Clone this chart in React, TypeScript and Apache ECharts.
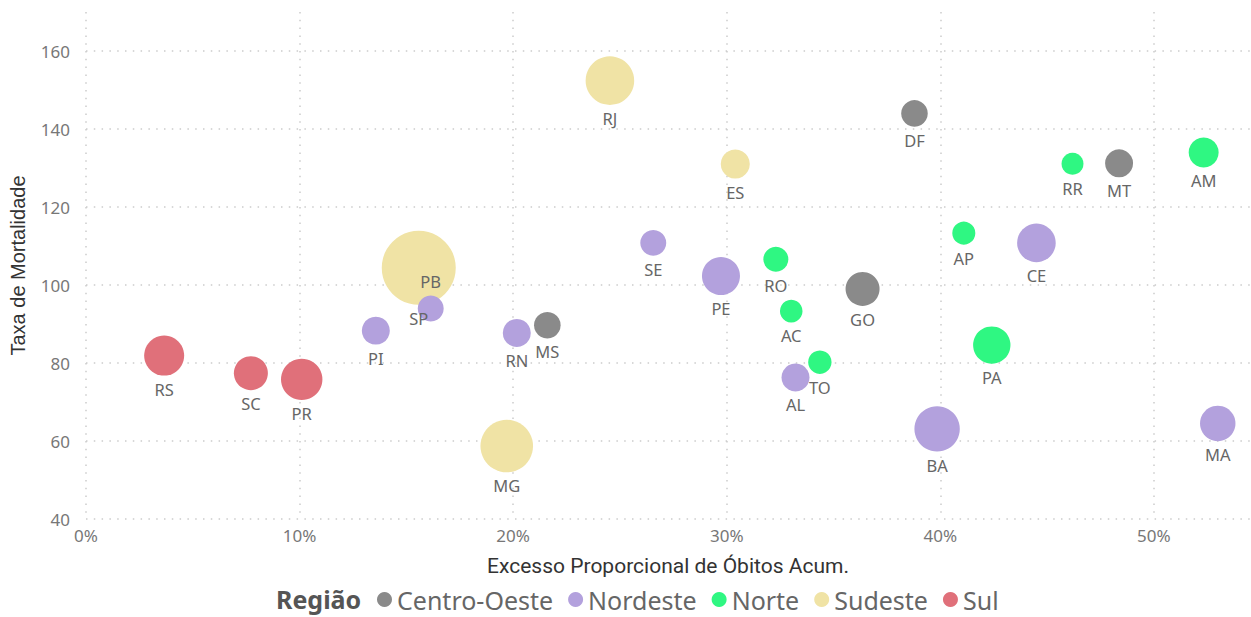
import React, { useEffect, useRef } from "react";
import * as echarts from "echarts";

const estados = ["RS","SC","PR","PI","RJ","ES","SE","PE","RO","SP","PB","RN","MS","MG","AC","TO","AL","DF","RR","MT","AM","AP","CE","GO","PA","BA","MA"];
const regiaoDoEstado = ["Sul","Sul","Sul","Nordeste","Sudeste","Sudeste","Nordeste","Nordeste","Norte","Sudeste","Nordeste","Nordeste","Centro-Oeste","Sudeste","Norte","Norte","Nordeste","Centro-Oeste","Norte","Centro-Oeste","Norte","Norte","Nordeste","Centro-Oeste","Norte","Nordeste","Nordeste"];
const excesso = [0.0366,0.0772,0.101,0.1357,0.2453,0.304,0.2656,0.2973,0.323,0.1558,0.1614,0.2017,0.216,0.197,0.3302,0.3436,0.3322,0.3879,0.4619,0.4837,0.5233,0.411,0.445,0.3636,0.4241,0.3985,0.5299];
const taxa = [81.9,77.4,75.8,88.3,152.4,131.0,110.8,102.3,106.6,104.4,94.0,87.7,89.7,58.7,93.3,80.2,76.3,144.0,131.1,131.2,134.0,113.3,110.8,99.0,84.6,63.1,64.5];
const tamanho = [29.2,21.1,31.3,14.3,43.1,15.4,12.3,26.4,11.4,100,12.3,14.3,12.9,50.5,9.3,10,14.3,12.9,8.8,14.3,16.4,9.7,27.2,21.1,25.5,37.6,22.9];
const labelAcima = ["PB"];

const regioes = ["Centro-Oeste","Nordeste","Norte","Sudeste","Sul"];
const cores: Record<string,string> = {
  "Centro-Oeste": "#8a8a8a",
  "Nordeste": "#b3a1dd",
  "Norte": "#2ff782",
  "Sudeste": "#f0e3a5",
  "Sul": "#e0707a",
};
const ordemDesenho = ["Sudeste","Sul","Centro-Oeste","Nordeste","Norte"];

export default function App() {
  const ref = useRef<HTMLDivElement>(null);
  useEffect(() => {
    const chart = echarts.init(ref.current!, undefined, { renderer: "svg" });
    const font = "'Noto Sans', 'Open Sans', sans-serif";
    const series = ordemDesenho.map((reg) => ({
      name: reg,
      type: "scatter",
      itemStyle: { color: cores[reg], opacity: 1 },
      symbolSize: (v: any[]) => 7.4 * Math.sqrt(v[2]),
      label: {
        show: true,
        formatter: (p: any) => p.data.value[3],
        color: "#666",
        fontSize: 16.5,
        fontFamily: font,
        distance: 5,
      },
      emphasis: { disabled: true },
      data: estados
        .map((e, i) => ({ e, i }))
        .filter(({ i }) => regiaoDoEstado[i] === reg)
        .map(({ e, i }) => ({
          value: [excesso[i], taxa[i], tamanho[i], e],
          label: { position: labelAcima.includes(e) ? "top" : "bottom" },
        })),
    }));
    chart.setOption({
      animation: false,
      grid: { left: 85, right: 1, top: 12, bottom: 98, containLabel: false },
      xAxis: {
        type: "value",
        min: 0,
        max: 0.545,
        interval: 0.1,
        name: "Excesso Proporcional de Óbitos Acum.",
        nameLocation: "middle",
        nameGap: 36,
        nameTextStyle: { color: "#333", fontSize: 21, fontFamily: "Roboto, sans-serif" },
        axisLine: { show: false },
        axisTick: { show: false },
        axisLabel: {
          color: "#777",
          fontSize: 17,
          fontFamily: font,
          margin: 8,
          showMaxLabel: false,
          formatter: (v: number) => Math.round(v * 100) + "%",
        },
        splitLine: {
          show: true,
          showMaxLine: false,
          lineStyle: { color: "#cccccc", width: 1.5, type: [1.5, 6.3] },
        },
      },
      yAxis: {
        type: "value",
        min: 40,
        max: 170,
        interval: 20,
        name: "Taxa de Mortalidade",
        nameLocation: "middle",
        nameGap: 58,
        nameTextStyle: { color: "#333", fontSize: 20, fontFamily: "'Liberation Sans', Arial, sans-serif" },
        axisLine: { show: false },
        axisTick: { show: false },
        axisLabel: {
          color: "#777",
          fontSize: 17,
          fontFamily: font,
          margin: 16,
          showMaxLabel: false,
        },
        splitLine: {
          show: true,
          showMaxLine: false,
          lineStyle: { color: "#cccccc", width: 1.5, type: [1.5, 6.3] },
        },
      },
      legend: {
        data: regioes,
        left: 377,
        top: 587,
        padding: 0,
        icon: "circle",
        itemWidth: 15,
        itemHeight: 15,
        itemGap: 15,
        textStyle: { color: "#666", fontSize: 25, fontFamily: font },
        selectedMode: false,
      },
      graphic: [
        {
          type: "text",
          left: 276,
          top: 586,
          style: { text: "Região", fill: "#555", fontSize: 25, fontWeight: "bold", fontFamily: font },
        },
      ],
      series,
    });
    return () => chart.dispose();
  }, []);
  return <div ref={ref} style={{ width: 1251, height: 617, position: "absolute", left: 0, top: 0 }} />;
}
